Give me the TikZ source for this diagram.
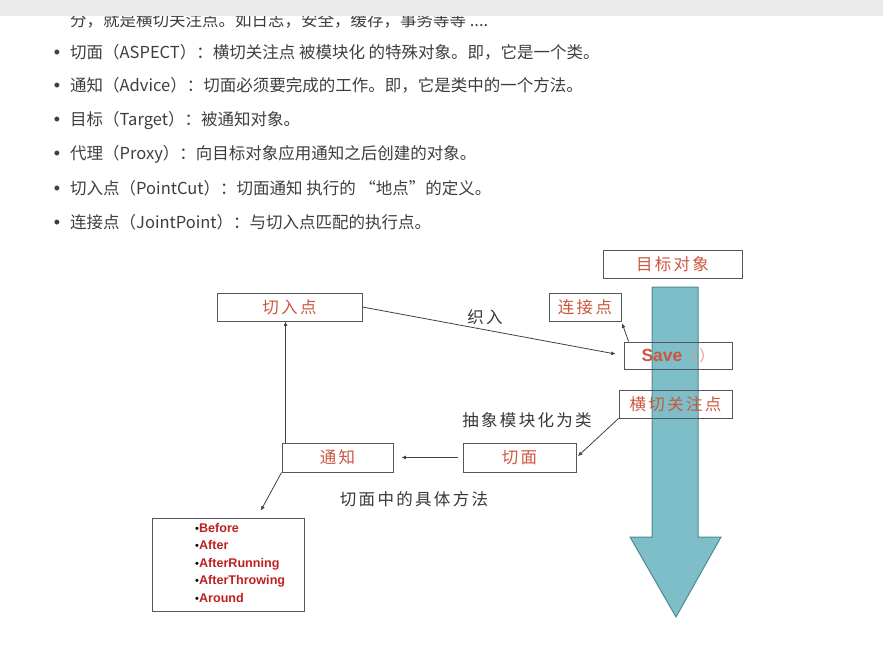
\documentclass[tikz,border=0pt]{standalone}
\usepackage{fontspec}
\usepackage{xcolor}
\usepackage{tikz}
\usetikzlibrary{arrows.meta, positioning, calc}
\setmainfont{Noto Sans CJK SC}
\newfontfamily\spacedcjk{Noto Sans CJK SC}[LetterSpace=14]
\newfontfamily\latinsans{Liberation Sans}
\definecolor{bodygray}{RGB}{62,62,62}
\definecolor{notegray}{RGB}{55,55,55}
\definecolor{boxline}{RGB}{85,85,95}
\definecolor{boxred}{RGB}{204,86,62}
\definecolor{itemred}{RGB}{190,32,32}
\definecolor{parengray}{RGB}{220,150,140}
\definecolor{flowfill}{RGB}{126,190,200}
\definecolor{flowline}{RGB}{78,138,148}
\definecolor{barcol}{RGB}{235,235,235}
\newcommand{\bodytextfont}{\fontsize{16.5}{20}\selectfont}
\newcommand{\boxtextfont}{\spacedcjk\fontsize{16.5}{20}\selectfont}
\newcommand{\notetextfont}{\spacedcjk\fontsize{16.5}{20}\selectfont}
\newcommand{\methodfont}{\latinsans\bfseries\fontsize{12.6}{17.5}\selectfont}
\newcommand{\itembullet}{\textcolor{black}{\normalfont\latinsans\fontsize{11}{10}\selectfont•}}

\begin{document}
\begin{tikzpicture}[
    x=1pt, y=-1pt,
    row/.style={anchor=base west, inner sep=0pt, font=\bodytextfont, text=bodygray},
    dot/.style={anchor=base, inner sep=0pt, font=\latinsans\fontsize{18}{20}\selectfont, text=bodygray},
    box/.style={draw=boxline, line width=0.9pt, minimum height=28pt, inner sep=0pt, text=boxred, font=\boxtextfont},
    note/.style={inner sep=0pt, font=\notetextfont, text=notegray},
    link/.style={-{Latex[length=4.5pt,width=4pt]}, line width=0.8pt, draw=black!75}
]
\useasboundingbox (0,0) rectangle (883,663);

% Text above the diagram
\node[row] (intro) at (70,27) {分，就是横切关注点。如日志，安全，缓存，事务等等 ....};
\fill[barcol] (0,0) rectangle (883,16);

\node[dot] (b1) at (57,59) {•};
\node[row] (r1) at (70,59) {切面（ASPECT）：横切关注点 被模块化 的特殊对象。即，它是一个类。};
\node[dot] (b2) at (57,92) {•};
\node[row] (r2) at (70,92) {通知（Advice）：切面必须要完成的工作。即，它是类中的一个方法。};
\node[dot] (b3) at (57,126) {•};
\node[row] (r3) at (70,126) {目标（Target）：被通知对象。};
\node[dot] (b4) at (57,160) {•};
\node[row] (r4) at (70,160) {代理（Proxy）：向目标对象应用通知之后创建的对象。};
\node[dot] (b5) at (57,194) {•};
\node[row] (r5) at (70,194) {切入点（PointCut）：切面通知 执行的 “地点”的定义。};
\node[dot] (b6) at (57,228) {•};
\node[row] (r6) at (70,228) {连接点（JointPoint）：与切入点匹配的执行点。};

% Target flow arrow
\filldraw[fill=flowfill, draw=flowline, line width=1pt, line join=miter]
    (652,287) -- (698,287) -- (698,537) -- (721,537) -- (676,617) -- (630,537) -- (652,537) -- cycle;

% Boxes
\node[box, minimum width=139pt] (target) at (672.5,264) {目标对象};
\node[box, minimum width=145pt] (cut) at (289.5,307) {切入点};
\node[box, minimum width=72pt] (joint) at (585,307) {连接点};
\node[box, minimum width=108pt, minimum height=27pt] (save) at (678,355.5)
    {{\latinsans\bfseries\fontsize{17.5}{20}\selectfont Save}{\color{parengray}\fontsize{15}{18}\selectfont（）}};
\node[box, minimum width=113pt] (cross) at (675.5,404) {横切关注点};
\node[box, minimum width=111pt, minimum height=29pt] (advice) at (337.5,457.5) {通知};
\node[box, minimum width=113pt, minimum height=29pt] (aspect) at (519.5,457.5) {切面};
\node[draw=boxline, line width=0.9pt, minimum width=152pt, minimum height=93pt] (list) at (228,564.5) {};
\node[anchor=north west, align=left, inner sep=0pt, font=\methodfont, text=itemred] (methods) at (195,523)
    {\itembullet Before\\ \itembullet After\\ \itembullet AfterRunning\\ \itembullet AfterThrowing\\ \itembullet Around};

% Labels
\node[note] (weave) at (485,317) {织入};
\node[note] (abstract) at (527,420) {抽象模块化为类};
\node[note] (method) at (414,499) {切面中的具体方法};

% Connectors
\draw[link, shorten >=8pt] (cut.east) -- (save.west);
\draw[link, shorten >=2pt] ([xshift=5pt]save.north west) -- (joint.south east);
\draw[link, shorten >=2pt] (cross.south west) -- (aspect.east);
\draw[link, shorten <=5pt, shorten >=8pt] (aspect.west) -- (advice.east);
\draw[link] ([xshift=4pt]advice.north west) -- ([xshift=4pt]advice.north west |- cut.south);
\draw[link, shorten >=8pt] (advice.south west) -- ([xshift=29pt]list.north);

\end{tikzpicture}
\end{document}
